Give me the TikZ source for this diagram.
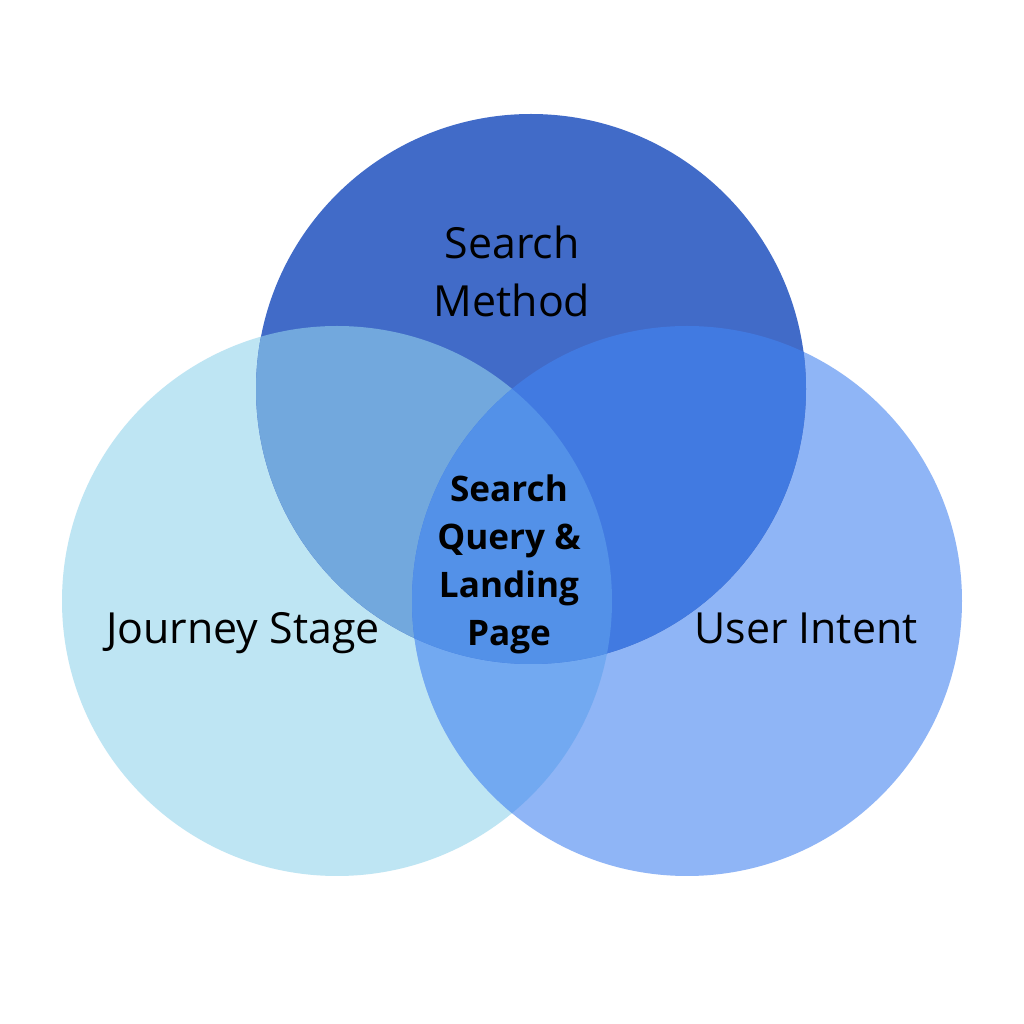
\documentclass[tikz,border=0pt]{standalone}
\usepackage{fontspec}
\setmainfont{Open Sans}
\definecolor{journey}{HTML}{BEE5F3}
\definecolor{intent}{HTML}{8FB5F6}
\definecolor{method}{HTML}{416BC8}
\definecolor{journeymethod}{HTML}{72A8DD}
\definecolor{methodintent}{HTML}{417AE1}
\definecolor{journeyintent}{HTML}{72A9F1}
\definecolor{allthree}{HTML}{5391E8}
\tikzset{
  setname/.style={align=center, font=\fontsize{24.4}{33}\selectfont},
  corename/.style={align=center, font=\fontsize{20}{27.3}\selectfont\bfseries}
}
\begin{document}
\begin{tikzpicture}
\useasboundingbox (0,0) rectangle (20.48,20.48);
\fill[white] (0,0) rectangle (20.48,20.48);
\coordinate (J) at (6.74,8.46);
\coordinate (I) at (13.74,8.46);
\coordinate (M) at (10.62,12.70);
% the three sets
\fill[journey] (J) circle[radius=5.5];
\fill[intent] (I) circle[radius=5.5];
\fill[method] (M) circle[radius=5.5];
% pairwise overlaps
\begin{scope}
\clip (J) circle[radius=5.5];
\fill[journeymethod] (M) circle[radius=5.5];
\fill[journeyintent] (I) circle[radius=5.5];
\end{scope}
\begin{scope}
\clip (M) circle[radius=5.5];
\fill[methodintent] (I) circle[radius=5.5];
\end{scope}
% middle
\begin{scope}
\clip (J) circle[radius=5.5];
\clip (M) circle[radius=5.5];
\fill[allthree] (I) circle[radius=5.5];
\end{scope}
\node[setname] (method) at (10.24,15.06) {Search\\Method};
\node[setname] (journey) at (4.86,7.82) {Journey Stage};
\node[setname] (intent) at (16.12,7.92) {User Intent};
\node[corename] (core) at (10.18,9.20) {Search\\Query \&\\Landing\\Page};
\end{tikzpicture}
\end{document}
